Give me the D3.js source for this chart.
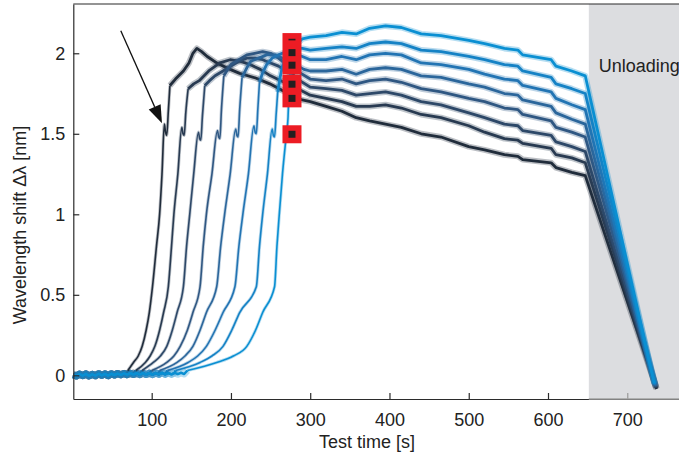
<!DOCTYPE html>
<html>
<head>
<meta charset="utf-8">
<script src="https://cdn.jsdelivr.net/npm/d3@7"></script>
<style>
  html, body { margin: 0; padding: 0; background: #fff; }
  svg { display: block; font-family: "Liberation Sans", Arial, sans-serif; }
</style>
</head>
<body>
<svg id="chart" width="679" height="459"></svg>
<script>
// ---------------- data ----------------
const timeTicks = [100, 200, 300, 400, 500, 600, 700];
const valueTicks = [0, 0.5, 1, 1.5, 2];
const xLabel = "Test time [s]";
const yLabel = "Wavelength shift Δλ [nm]";
const unloadingLabel = "Unloading";
const unloadingStart = 651.5;

const colors = ["#202c3b", "#283a51", "#2d4868", "#2f5782", "#2b669b", "#2274b3", "#1582c5", "#0a8fd2"];

// shared noisy baseline before onset (t, Δλ)
const baseline = [[1.1,0.004],[5,-0.004],[9,0.008],[13,-0.002],[17,0.009],[21,-0.004],[25,0.006],[29,-0.002],
  [33,0.01],[37,0.0],[41,0.009],[45,-0.002],[49,0.01],[53,0.002],[57,0.011],[61,0.003],[65,0.012],[69,0.004],
  [73,0.013],[77,0.005],[81,0.013],[85,0.004],[89,0.014],[93,0.005],[97,0.013],[101,0.004],[105,0.014],[109,0.006],
  [113,0.015],[117,0.006],[121,0.014],[125,0.006],[129,0.015],[133,0.007],[137,0.016],[141,0.008],[145,0.016],
  [149,0.008],[153,0.017],[157,0.009],[161,0.017],[165,0.009],[169,0.018],[173,0.01],[177,0.018]];

// loading (rise) part of each test, darkest → brightest
const rise1 = [[70,0.03],[77,0.08],[83,0.12],[88,0.18],[93,0.28],[97,0.39],[101,0.55],[106,0.8],[110,1.0],[113,1.25],[116,1.56],[117.5,1.51],[119,1.49],[121,1.64],[123,1.80],[130,1.84],[140,1.89],[147,1.94],[152,2.0],[157,2.03],[163,2.01],[170,1.98],[182,1.94],[199,1.90],[211,1.875],[232,1.845],[249,1.81],[261,1.78],[275,1.74],[290,1.71]];
const rise2 = [[80,0.03],[92,0.08],[98,0.12],[104,0.18],[110,0.28],[115,0.39],[121,0.55],[125,0.8],[128,1.0],[133,1.25],[138,1.54],[139.5,1.50],[141,1.49],[143,1.63],[146,1.78],[153,1.81],[160,1.83],[172,1.89],[186,1.94],[199,1.96],[212,1.95],[224,1.93],[237,1.90],[250,1.86],[263,1.83],[275,1.80],[288,1.77]];
const rise3 = [[88,0.03],[102,0.08],[111,0.12],[119,0.18],[126,0.28],[132,0.39],[140,0.55],[144,0.8],[148,1.0],[153,1.25],[159,1.51],[160.5,1.47],[162,1.46],[164,1.61],[167,1.80],[173,1.83],[180,1.86],[190,1.89],[200,1.92],[210,1.95],[220,1.97],[230,1.97],[240,1.96],[250,1.94],[260,1.92],[270,1.89],[280,1.86],[290,1.82]];
const rise4 = [[100,0.03],[119,0.08],[128,0.12],[136,0.18],[145,0.28],[152,0.39],[161,0.55],[165,0.8],[169,1.0],[176,1.25],[183,1.52],[184.5,1.48],[186,1.47],[188,1.65],[191,1.86],[196,1.90],[200,1.93],[210,1.96],[220,1.99],[230,2.0],[240,2.01],[250,2.0],[260,1.97],[270,1.93],[280,1.90],[290,1.87]];
const rise5 = [[110,0.03],[132,0.08],[142,0.12],[152,0.18],[161,0.28],[169,0.39],[182,0.55],[187,0.8],[192,1.0],[199,1.25],[206,1.53],[207.5,1.49],[209,1.48],[211,1.65],[214,1.85],[220,1.91],[225,1.95],[235,1.97],[245,1.99],[255,1.99],[265,1.97],[275,1.94],[285,1.92],[292,1.90]];
const rise6 = [[120,0.03],[146,0.08],[158,0.12],[169,0.18],[180,0.28],[190,0.39],[205,0.55],[210,0.8],[215,1.0],[222,1.25],[229,1.55],[230.5,1.51],[232,1.50],[234,1.66],[236,1.82],[240,1.88],[245,1.93],[252,1.97],[260,1.99],[270,2.01],[280,2.0],[290,1.98]];
const rise7 = [[130,0.03],[161,0.08],[176,0.12],[190,0.18],[201,0.28],[211,0.39],[232,0.55],[236,0.8],[240,1.0],[246,1.25],[252,1.53],[253.5,1.49],[255,1.48],[257,1.62],[259,1.76],[262,1.85],[265,1.92],[270,1.98],[275,2.01],[282,2.03],[290,2.03]];
const rise8 = [[145,0.03],[182,0.08],[203,0.12],[220,0.18],[231,0.28],[240,0.39],[255,0.55],[258,0.8],[261,1.0],[265,1.25],[270,1.50],[272,1.6],[273,1.75],[275,1.88],[277,1.95],[282,2.05],[290,2.09]];

// holding (plateau) part, sampled at shared times
const plateauTimes = [300,320,340,358,375,395,415,440,465,500,520,545,562,568,604,610,630,647];
const plateau1 = [1.70,1.67,1.64,1.60,1.58,1.56,1.54,1.50,1.48,1.42,1.40,1.37,1.36,1.34,1.32,1.29,1.26,1.24];
const plateau2 = [1.74,1.72,1.70,1.67,1.67,1.68,1.66,1.62,1.60,1.55,1.51,1.47,1.46,1.44,1.41,1.37,1.35,1.32];
const plateau3 = [1.79,1.78,1.77,1.74,1.75,1.76,1.74,1.70,1.68,1.63,1.60,1.56,1.55,1.52,1.49,1.45,1.42,1.39];
const plateau4 = [1.84,1.83,1.84,1.81,1.83,1.84,1.82,1.78,1.76,1.72,1.70,1.66,1.65,1.62,1.58,1.54,1.51,1.48];
const plateau5 = [1.89,1.89,1.90,1.87,1.90,1.91,1.90,1.86,1.85,1.81,1.79,1.75,1.74,1.71,1.67,1.63,1.59,1.56];
const plateau6 = [1.96,1.96,1.98,1.96,1.99,2.00,1.99,1.94,1.93,1.90,1.87,1.84,1.83,1.80,1.76,1.72,1.68,1.65];
const plateau7 = [2.02,2.03,2.04,2.03,2.06,2.07,2.06,2.02,2.01,1.98,1.96,1.93,1.92,1.89,1.85,1.81,1.78,1.75];
const plateau8 = [2.10,2.11,2.13,2.12,2.155,2.17,2.16,2.12,2.11,2.08,2.06,2.03,2.02,1.99,1.96,1.92,1.89,1.86];

// unloading end point of each test
const unloadEnd = [[737,-0.085],[737,-0.08],[736,-0.075],[736,-0.07],[736,-0.065],[735,-0.06],[735,-0.055],[734,-0.05]];

// marked points (red boxes)
const markerTime = 277;
const markerValues = [2.085, 2.004, 1.926, 1.808, 1.72, 1.497];
const markerKinds = ["dash", "square", "square", "square", "square", "square"];
const markerGroups = [[0, 2], [3, 4], [5, 5]];

// arrow annotation (data coords)
const arrowFrom = [61, 2.14];
const arrowTo = [113, 1.565];

// ---------------- chart ----------------
const W = 679, H = 459;
const svg = d3.select("#chart");
const x = d3.scaleLinear().domain([1.1, 817]).range([73.3, 720]);
const y = d3.scaleLinear().domain([-0.147, 2.306]).range([399, 4]);

// grey unloading region
svg.append("rect")
  .attr("x", x(unloadingStart)).attr("y", y(2.306))
  .attr("width", W - x(unloadingStart)).attr("height", y(-0.147) - y(2.306))
  .attr("fill", "#dcdde0");

svg.append("text")
  .attr("x", x(unloadingStart) + 10).attr("y", 72)
  .attr("font-size", 18).attr("fill", "#222")
  .text(unloadingLabel);

// curves: each split into baseline / rise / hold+unload segments
const rises = [rise1, rise2, rise3, rise4, rise5, rise6, rise7, rise8];
const plateaus = [plateau1, plateau2, plateau3, plateau4, plateau5, plateau6, plateau7, plateau8];
const line = d3.line().x(d => x(d[0])).y(d => y(d[1]));
const smooth = d3.line().x(d => x(d[0])).y(d => y(d[1])).curve(d3.curveMonotoneX);
const gBase = svg.append("g"), gRise = svg.append("g"), gHold = svg.append("g");

rises.forEach((r, i) => {
  const base = baseline.filter(p => p[0] < r[0][0]);
  base.push(r[0]);
  const k = r.findIndex(p => p[1] >= 1.75);
  const risePart = r.slice(0, k + 1);
  const hold = r.slice(k);
  plateauTimes.forEach((t, j) => hold.push([t, plateaus[i][j]]));
  hold.push(unloadEnd[i]);

  gBase.append("path").attr("d", line(base)).attr("fill", "none")
    .attr("stroke", colors[i]).attr("stroke-width", 7).attr("stroke-opacity", 0.3)
    .attr("stroke-linejoin", "round");
  gBase.append("path").attr("d", line(base)).attr("fill", "none")
    .attr("stroke", colors[i]).attr("stroke-width", 2.5).attr("stroke-linejoin", "round");

  gRise.append("path").attr("d", smooth(risePart)).attr("fill", "none")
    .attr("stroke", colors[i]).attr("stroke-width", 3.2).attr("stroke-opacity", 0.3)
    .attr("stroke-linejoin", "round");
  gRise.append("path").attr("d", smooth(risePart)).attr("fill", "none")
    .attr("stroke", colors[i]).attr("stroke-width", 1.6).attr("stroke-linejoin", "round");

  gHold.append("path").attr("d", line(hold)).attr("fill", "none")
    .attr("stroke", colors[i]).attr("stroke-width", 6).attr("stroke-opacity", 0.3)
    .attr("stroke-linejoin", "round");
  gHold.append("path").attr("d", line(hold)).attr("fill", "none")
    .attr("stroke", colors[i]).attr("stroke-width", 2.8).attr("stroke-linejoin", "round");
});

// axes
const xAxis = d3.axisBottom(x).tickValues(timeTicks).tickSizeInner(-6).tickSizeOuter(0).tickPadding(14);
const yAxis = d3.axisLeft(y).tickValues(valueTicks).tickSizeInner(-6).tickSizeOuter(0).tickPadding(8)
  .tickFormat(d3.format("~g"));

const gx = svg.append("g").attr("transform", `translate(0,${y(-0.147)})`).call(xAxis);
const gy = svg.append("g").attr("transform", `translate(${x(1.1)},0)`).call(yAxis);
[gx, gy].forEach(a => {
  a.select(".domain").attr("stroke", "#2b2b2b").attr("stroke-width", 1.2);
  a.selectAll(".tick line").attr("stroke", "#2b2b2b").attr("stroke-width", 1.2);
  a.selectAll(".tick text").attr("font-size", 18).attr("fill", "#222")
    .attr("font-family", "'Liberation Sans', Arial, sans-serif");
});
gx.selectAll(".tick").filter(d => d >= unloadingStart).select("line").attr("stroke", "#9a9a9a");
svg.append("line")
  .attr("x1", x(unloadingStart)).attr("x2", W)
  .attr("y1", y(-0.147)).attr("y2", y(-0.147))
  .attr("stroke", "#a0a0a0").attr("stroke-width", 1.4);
svg.append("line")
  .attr("x1", x(1.1)).attr("x2", W)
  .attr("y1", y(2.306)).attr("y2", y(2.306))
  .attr("stroke", "#2b2b2b").attr("stroke-width", 1.2);

// axis titles
svg.append("text")
  .attr("x", 367).attr("y", 448)
  .attr("text-anchor", "middle").attr("font-size", 18).attr("fill", "#222")
  .text(xLabel);
svg.append("text")
  .attr("transform", `translate(26,225) rotate(-90)`)
  .attr("text-anchor", "middle").attr("font-size", 18).attr("fill", "#222")
  .text(yLabel);

// red boxes with markers
const mx = x(markerTime);
markerGroups.forEach(([a, b]) => {
  const padTop = markerKinds[a] === "dash" ? 6.5 : (a === 3 ? 9.6 : 9);
  const top = y(markerValues[a]) - padTop;
  const bottom = y(markerValues[b]) + 9;
  svg.append("rect")
    .attr("x", mx - 9.5).attr("y", top)
    .attr("width", 19).attr("height", bottom - top)
    .attr("fill", "#ec1c24");
});
markerValues.forEach((v, i) => {
  if (markerKinds[i] === "dash") {
    svg.append("rect").attr("x", mx - 3.5).attr("y", y(v) - 0.8)
      .attr("width", 7).attr("height", 1.6).attr("fill", "#231f20");
  } else {
    svg.append("rect").attr("x", mx - 3.5).attr("y", y(v) - 3.5)
      .attr("width", 7).attr("height", 7).attr("fill", "#231f20");
  }
});

// arrow
const ax1 = x(arrowFrom[0]), ay1 = y(arrowFrom[1]);
const ax2 = x(arrowTo[0]), ay2 = y(arrowTo[1]);
const ang = Math.atan2(ay2 - ay1, ax2 - ax1);
const headLen = 18, headHalf = 6.5;
const bx = ax2 - headLen * Math.cos(ang), by = ay2 - headLen * Math.sin(ang);
svg.append("line")
  .attr("x1", ax1).attr("y1", ay1).attr("x2", bx).attr("y2", by)
  .attr("stroke", "#111").attr("stroke-width", 1.3);
svg.append("path")
  .attr("d", `M${ax2},${ay2} L${bx + headHalf * Math.sin(ang)},${by - headHalf * Math.cos(ang)} L${bx - headHalf * Math.sin(ang)},${by + headHalf * Math.cos(ang)} Z`)
  .attr("fill", "#111");
</script>
</body>
</html>
